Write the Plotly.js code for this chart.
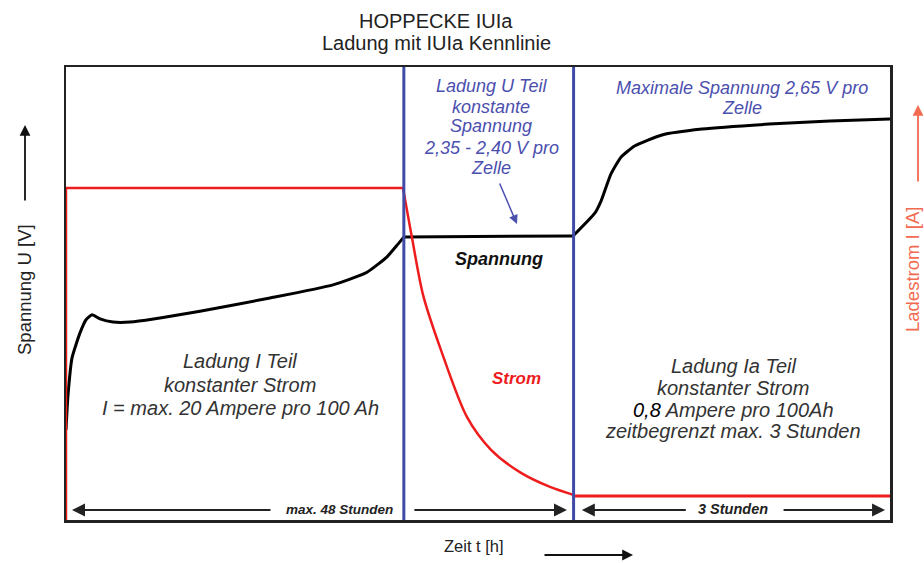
<!DOCTYPE html>
<html>
<head>
<meta charset="utf-8">
<script src="https://cdn.plot.ly/plotly-3.0.1.min.js"></script>
<style>html,body{margin:0;padding:0;background:#fff;}#chart{width:924px;height:563px;}</style>
</head>
<body>
<div id="chart"></div>
<script>
// Time axis in relative units (0-100 across the chart)
// Voltage: I phase, U phase (constant), Ia phase
var voltageITime = [0, 0.24, 0.73, 1.70, 2.43, 3.16, 4.13, 5.70, 7.77, 16.26, 24.76, 32.40, 36.53, 38.96, 40.29, 41.02];
var voltageIValue = [19.9, 27.5, 35.8, 41.3, 44.2, 45.3, 44.4, 43.7, 43.7, 46.1, 49.0, 51.9, 54.7, 58.1, 60.9, 62.5];
var voltageUTime = [41.02, 61.53];
var voltageUValue = [62.5, 62.7];
var voltageIaTime = [61.53, 64.20, 64.93, 66.14, 67.35, 69.05, 72.33, 77.18, 85.32, 92.72, 100];
var voltageIaValue = [62.7, 67.8, 70.4, 76.4, 80.1, 82.6, 85.0, 86.3, 87.4, 88.1, 88.5];
// Current: constant phase, decay phase, trickle phase
var currentConstTime = [0, 0, 40.90];
var currentConstValue = [0, 73.3, 73.3];
var currentDecayTime = [40.90, 41.38, 41.99, 43.33, 45.51, 48.67, 51.58, 55.22, 58.74, 61.65];
var currentDecayValue = [73.3, 68.4, 62.3, 49.7, 37.5, 22.7, 15.5, 10.4, 7.3, 5.5];
var currentTrickleTime = [61.65, 61.65, 100];
var currentTrickleValue = [5.5, 5.3, 5.3];
var phaseBounds = [41.0, 61.6];
var leftBlock = ["Ladung I Teil", "konstanter Strom", "I = max. 20 Ampere pro 100 Ah"];
var rightBlock = ["Ladung Ia Teil", "konstanter Strom", "<span style=\"color:#000\">0,8</span> Ampere pro 100Ah", "zeitbegrenzt max. 3 Stunden"];
var uBlock = ["Ladung U Teil", "konstante", "Spannung", "2,35 - 2,40 V pro", "Zelle"];
var maxBlock = ["Maximale Spannung 2,65 V pro", "Zelle"];

var FONT = "Liberation Sans, Arial, sans-serif";
var BLUE = "#4b4fae";
var TXT = "#333333";
var RED = "#ee1c1c";

function line(x, y, color, width, spline, axis) {
  var l = {color: color, width: width};
  if (spline) { l.shape = "spline"; l.smoothing = spline; }
  var t = {x: x, y: y, type: "scatter", mode: "lines", line: l, hoverinfo: "skip"};
  if (axis) t.yaxis = axis;
  return t;
}
var traces = [
  line(voltageITime, voltageIValue, "#000", 3, 0.5),
  line(voltageUTime, voltageUValue, "#000", 3, 0),
  line(voltageIaTime, voltageIaValue, "#000", 3, 0.5),
  line(currentConstTime, currentConstValue, RED, 2.5, 0, "y2"),
  line(currentDecayTime, currentDecayValue, RED, 2.5, 0.8, "y2"),
  line(currentTrickleTime, currentTrickleValue, RED, 3, 0, "y2")
];

function px2paperY(py) { return (520 - py) / 453; }
function px2paperX(px) { return (px - 66) / 824; }

var ann = [];
function txt(text, px, py, size, opts) {
  opts = opts || {};
  ann.push({
    xref: "paper", yref: "paper", x: px2paperX(px), y: px2paperY(py),
    xanchor: "center", yanchor: "middle", showarrow: false, text: text,
    textangle: opts.angle || 0,
    font: {family: FONT, size: size, color: opts.color || TXT, weight: opts.weight || "normal", style: opts.style || "normal"}
  });
}
// Titles
txt("HOPPECKE IUIa", 436, 21, 20, {color: "#222"});
txt("Ladung mit IUIa Kennlinie", 436, 43, 20, {color: "#222"});
// Blocks
var lc = [361, 385, 408];
leftBlock.forEach(function (t, i) { txt(t, 240, lc[i], 20, {style: "italic"}); });
var rc = [366, 388, 410, 431];
rightBlock.forEach(function (t, i) { txt(t, 733, rc[i], 20, {style: "italic"}); });
var uc = [86, 107, 126, 148, 168];
uBlock.forEach(function (t, i) { txt(t, 491, uc[i], 18, {style: "italic", color: BLUE}); });
var mc = [88, 108];
maxBlock.forEach(function (t, i) { txt(t, 742, mc[i], 18, {style: "italic", color: BLUE}); });
txt("Spannung", 499, 259, 18, {style: "italic", weight: "bold", color: "#111"});
txt("Strom", 516, 378, 17, {style: "italic", weight: "bold", color: RED});
txt("max. 48 Stunden", 339, 509, 13.5, {style: "italic", weight: "bold", color: "#222"});
txt("3 Stunden", 733, 509, 14.5, {style: "italic", weight: "bold", color: "#222"});
txt("Zeit t [h]", 474, 546, 16.5, {color: "#222"});
txt("Spannung U [V]", 24, 290, 18.5, {angle: -90, color: "#222"});
txt("Ladestrom I [A]", 912, 270, 18.5, {angle: -90, color: "#f26a4f"});

function arrow(x, y, ax, ay, color, width, size, refs) {
  var a = {x: x, y: y, ax: ax, ay: ay, text: "", showarrow: true, arrowhead: 2, arrowsize: size,
    arrowwidth: width, arrowcolor: color, standoff: 0, startstandoff: 0};
  if (refs === "data") { a.xref = "x"; a.yref = "y"; a.axref = "x"; a.ayref = "y"; }
  else { a.xref = "paper"; a.yref = "paper"; }
  ann.push(a);
}
// Bottom duration arrows (data coords)
arrow(0.73, 2.2, 25.0, 2.2, "#222", 2, 1.3, "data");
arrow(60.8, 2.2, 42.1, 2.2, "#222", 2, 1.3, "data");
arrow(62.6, 2.2, 75.4, 2.2, "#222", 2, 1.3, "data");
arrow(99.4, 2.2, 86.9, 2.2, "#222", 2, 1.3, "data");
// Blue pointer arrow
arrow(54.73, 65.34, 52.55, 74.6, BLUE, 1.5, 1.2, "data");
// Axis direction arrows (pixel offsets)
arrow(px2paperX(25), px2paperY(125), 0, 77, "#111", 1.8, 1.2, "paper");
arrow(px2paperX(918), px2paperY(105), 0, 78, "#f26a4f", 1.8, 1.2, "paper");
arrow(px2paperX(633), px2paperY(555), -90, 0, "#111", 1.8, 1.2, "paper");

var shapes = phaseBounds.map(function (b) {
  return {type: "line", xref: "x", yref: "paper", x0: b, x1: b, y0: 0, y1: 1, line: {color: "#3f4ba8", width: 3}};
});

var layout = {
  width: 924, height: 563,
  margin: {l: 66, r: 34, t: 67, b: 43},
  paper_bgcolor: "#fff", plot_bgcolor: "#fff",
  showlegend: false,
  xaxis: {range: [0, 100], showgrid: false, zeroline: false, showticklabels: false, ticks: "",
    showline: true, mirror: true, linecolor: "#222", linewidth: 2.5},
  yaxis: {range: [0, 100], showgrid: false, zeroline: false, showticklabels: false, ticks: "",
    showline: true, mirror: true, linecolor: "#222", linewidth: 2.5},
  yaxis2: {range: [0, 100], overlaying: "y", side: "right", showgrid: false, zeroline: false,
    showticklabels: false, ticks: "", showline: false},
  annotations: ann,
  shapes: shapes
};

Plotly.newPlot("chart", traces, layout, {staticPlot: true, displayModeBar: false});
</script>
</body>
</html>
